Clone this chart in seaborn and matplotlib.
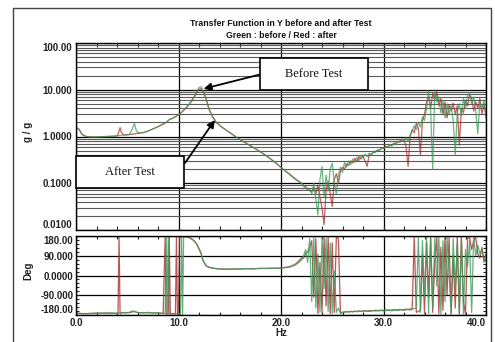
import matplotlib
matplotlib.use("Agg")
import matplotlib.pyplot as plt
from matplotlib.patches import Rectangle
from matplotlib.ticker import FixedLocator, MultipleLocator, LogLocator, NullFormatter
import pandas as pd
import seaborn as sns

# Frequency samples (Hz) shared by both measurements
freq_hz = [
    0.0, 0.3, 0.6, 1.0, 1.5, 2.0, 2.5, 3.0, 3.5, 4.0,
    4.1, 4.2, 4.3, 4.4, 4.6, 4.8, 5.2, 5.5, 5.7, 5.9,
    6.2, 6.6, 7.0, 7.5, 8.0, 8.5, 8.7, 8.8, 8.9, 9.0,
    9.1, 9.2, 9.5, 9.7, 9.8, 9.9, 10.0, 10.1, 10.2, 10.3,
    10.4, 10.5, 10.6, 10.9, 11.2, 11.5, 11.8, 12.0, 12.2, 12.4,
    12.7, 13.0, 13.3, 13.7, 14.2, 14.8, 15.4, 16.0, 16.6, 17.2,
    17.8, 18.4, 19.0, 19.6, 20.2, 20.8, 21.4, 22.0,
    22.2, 22.4, 22.6, 22.8, 23.0, 23.2, 23.4, 23.6, 23.8, 24.0,
    24.2, 24.4, 24.6, 24.8, 25.0, 25.2, 25.4, 25.6, 25.8, 26.0,
    26.2, 26.4, 26.6, 26.8, 27.0, 27.2, 27.4, 27.6, 27.8, 28.0,
    28.2, 28.4, 28.6, 28.8, 29.0, 29.2, 29.4, 29.6, 29.8, 30.0,
    30.2, 30.4, 30.6, 30.8, 31.0, 31.2, 31.4, 31.6, 31.8, 32.0,
    32.2, 32.4, 32.6, 32.8, 33.0, 33.2, 33.4, 33.6, 33.8, 34.0,
    34.2, 34.4, 34.6, 34.8, 35.0, 35.2, 35.4, 35.6, 35.8, 36.0,
    36.2, 36.4, 36.6, 36.8, 37.0, 37.2, 37.4, 37.6, 37.8, 38.0,
    38.2, 38.4, 38.6, 38.8, 39.0, 39.2, 39.4, 39.6, 39.8, 40.0, 40.2,
]

# Magnitude (g/g) before the test (green)
mag_before = [
    1.6, 1.45, 1.1, 1.0, 0.98, 0.98, 0.99, 1.0, 1.01, 1.03,
    1.04, 1.05, 1.05, 1.06, 1.07, 1.08, 1.1, 1.45, 1.9, 1.3,
    1.18, 1.22, 1.3, 1.45, 1.62, 1.85, 1.95, 2.0, 2.1, 2.2,
    2.3, 2.35, 2.5, 2.65, 2.75, 2.85, 2.95, 3.05, 3.15, 3.3,
    3.45, 3.6, 3.8, 4.5, 5.5, 7.0, 9.2, 11.2, 11.6, 9.8,
    6.5, 3.8, 2.7, 2.0, 1.6, 1.3, 1.05, 0.86, 0.72, 0.6,
    0.5, 0.41, 0.33, 0.26, 0.2, 0.155, 0.12, 0.1,
    0.085, 0.08, 0.07, 0.075, 0.06, 0.1, 0.045, 0.021, 0.12, 0.23,
    0.05, 0.15, 0.07, 0.2, 0.27, 0.1, 0.06, 0.15, 0.22, 0.17,
    0.28, 0.22, 0.3, 0.25, 0.33, 0.28, 0.36, 0.3, 0.4, 0.35,
    0.42, 0.37, 0.44, 0.4, 0.48, 0.45, 0.52, 0.5, 0.56, 0.55,
    0.6, 0.58, 0.68, 0.62, 0.72, 0.68, 0.8, 0.74, 0.88, 0.82,
    0.95, 0.78, 1.1, 1.3, 1.7, 1.4, 2.0, 1.6, 2.6, 2.2,
    4.0, 9.5, 3.5, 0.2, 10.0, 5.5, 7.0, 3.2, 6.0, 2.5,
    5.0, 3.0, 4.5, 2.2, 0.4, 3.5, 5.0, 2.8, 6.5, 4.0,
    7.5, 8.5, 5.0, 7.0, 3.5, 1.15, 5.5, 4.0, 6.0, 3.0, 2.0,
]

# Magnitude (g/g) after the test (red)
mag_after = [
    1.55, 1.4, 1.1, 1.0, 0.98, 0.98, 0.99, 1.0, 1.01, 1.03,
    1.1, 1.3, 1.55, 1.25, 1.1, 1.08, 1.1, 1.12, 1.14, 1.16,
    1.18, 1.22, 1.3, 1.45, 1.62, 1.85, 1.95, 2.0, 2.1, 2.2,
    2.3, 2.35, 2.5, 2.65, 2.75, 2.85, 2.95, 3.05, 3.15, 3.3,
    3.45, 3.6, 3.8, 4.5, 5.4, 6.8, 8.8, 10.2, 10.6, 9.2,
    6.2, 3.7, 2.7, 2.0, 1.6, 1.3, 1.05, 0.86, 0.72, 0.6,
    0.5, 0.41, 0.33, 0.26, 0.2, 0.16, 0.125, 0.1,
    0.09, 0.085, 0.075, 0.07, 0.065, 0.08, 0.06, 0.09, 0.05, 0.03,
    0.013, 0.07, 0.11, 0.06, 0.032, 0.12, 0.16, 0.1, 0.18, 0.22,
    0.2, 0.26, 0.24, 0.3, 0.27, 0.34, 0.29, 0.37, 0.33, 0.38,
    0.3, 0.23, 0.4, 0.42, 0.45, 0.48, 0.5, 0.52, 0.55, 0.57,
    0.62, 0.6, 0.65, 0.66, 0.7, 0.72, 0.76, 0.8, 0.84, 0.86,
    0.6, 0.23, 1.0, 1.4, 1.2, 1.9, 1.5, 0.4, 2.2, 3.0,
    5.5, 7.0, 4.0, 8.5, 6.0, 9.0, 4.5, 6.5, 3.0, 5.5,
    2.5, 4.8, 3.5, 5.2, 3.0, 4.5, 0.65, 4.0, 3.2, 6.0,
    4.5, 8.0, 6.5, 3.5, 5.5, 4.0, 6.5, 3.0, 5.0, 2.5, 3.0,
]

# Phase (deg) before the test (green)
phase_before = [
    -172, -174, -176, -175, -174, -173, -174, -172, -173, -174,
    -174, -173, -173, -172, -172, -171, -170, -163, -165, -170,
    -171, -172, -170, -172, -173, -174, -176, 178, -178, 178,
    -178, -176, -175, -176, -176, -177, -178, -178, -178, 179,
    -179, 179, 179, 178, 172, 162, 145, 125, 105, 70,
    45, 38, 34, 32, 29, 30, 29, 31, 32, 30,
    33, 32, 34, 33, 35, 38, 48, 70,
    90, 120, 60, 170, -120, 175, -150, 100, -170, 178,
    -60, 170, -165, 150, -175, 20, -170, -150, -172, -168,
    -170, -167, -169, -166, -168, -165, -167, -164, -166, -163,
    -165, -162, -166, -163, -161, -164, -160, -163, -161, -164,
    -160, -162, -159, -163, -160, -158, -162, -159, -157, -161,
    -158, -155, -160, -156, -152, -150, 175, -170, 160, -100,
    178, -175, 170, -150, 175, -50, 178, -178, 160, -120,
    178, 0, -175, 170, -60, 150, -175, 178, -178, 120,
    40, 160, -170, 178, 90, 140, 100, 120, 60, 90, 80,
]

# Phase (deg) after the test (red)
phase_after = [
    -173, -175, -175, -176, -175, -174, -173, -174, -173, -175,
    -176, 178, -176, -173, -170, -172, -171, -168, -166, -169,
    -172, -171, -172, -173, -172, -175, 178, -177, -176, -176,
    178, -177, -176, -177, 179, -179, -178, 179, 179, 179,
    179, 179, 178, 177, 170, 160, 142, 122, 100, 68,
    44, 37, 35, 31, 30, 29, 30, 30, 31, 31,
    32, 33, 33, 34, 36, 40, 52, 80,
    80, 100, 110, 130, 160, -100, 170, -175, 60, -170,
    175, -140, 178, -175, 150, -170, 178, 170, -175, -170,
    -168, -166, -168, -165, -167, -164, -166, -163, -165, -164,
    -162, -165, -161, -164, -162, -160, -163, -161, -159, -162,
    -160, -158, -161, -159, -157, -160, -158, -156, -159, -157,
    -155, -158, -154, -152, 178, -170, -165, -160, 100, -175,
    150, -100, 178, -170, 60, 175, -175, 130, -160, 178,
    -90, 175, -178, 90, -150, 178, -178, 178, -120, -178,
    170, 178, 120, 160, 178, 100, 80, 130, 70, 100, 60,
]

mag_ticks = [0.01, 0.1, 1, 10, 100]
mag_tick_labels = ["0.0100", "0.1000", "1.0000", "10.000", "100.00"]
phase_ticks = [-180, -90, 0, 90, 180]
phase_tick_labels = ["-180.00", "-90.000", "0.0000", "90.000", "180.00"]
freq_ticks = [0, 10, 20, 30, 40]
freq_tick_labels = ["0.0", "10.0", "20.0", "30.0", "40.0"]

title_lines = ["Transfer Function in Y before and after Test",
               "Green : before / Red : after"]

n = len(freq_hz)
df = pd.DataFrame({
    "freq": freq_hz * 2,
    "mag": mag_before + mag_after,
    "phase": phase_before + phase_after,
    "test": ["before"] * n + ["after"] * n,
})

sns.set_theme(style="white")
plt.rcParams["font.family"] = ["Liberation Sans", "DejaVu Sans"]
plt.rcParams["axes.linewidth"] = 1.0

palette = {"before": "#3c9c5a", "after": "#a82c2c"}
W, H = 495, 342
fig = plt.figure(figsize=(W / 100, H / 100), dpi=100)
fig.patch.set_facecolor("white")

ax_mag = fig.add_axes([76 / W, 112 / H, 410 / W, 187 / H])
ax_ph = fig.add_axes([76 / W, 27 / H, 410 / W, 79 / H])

tick_font = dict(fontsize=7, fontweight="bold", color="#222222")

# Magnitude plot
sns.lineplot(data=df, x="freq", y="mag", hue="test", hue_order=["after", "before"],
             palette=palette, estimator=None, sort=False, legend=False,
             linewidth=0.9, alpha=0.75, ax=ax_mag)
ax_mag.set_yscale("log")
ax_mag.set_xlim(0, 40)
ax_mag.set_ylim(0.01, 100)
ax_mag.yaxis.set_major_locator(FixedLocator(mag_ticks))
ax_mag.yaxis.set_minor_locator(LogLocator(base=10, subs=range(2, 10)))
ax_mag.yaxis.set_minor_formatter(NullFormatter())
ax_mag.set_yticklabels(mag_tick_labels, **tick_font)
ax_mag.xaxis.set_major_locator(FixedLocator(freq_ticks))
ax_mag.xaxis.set_minor_locator(MultipleLocator(2))
ax_mag.set_xticklabels([])
ax_mag.grid(which="major", axis="both", color="black", linewidth=0.9)
ax_mag.grid(which="minor", axis="y", color="#5a5a5a", linewidth=0.8)
ax_mag.set_axisbelow(True)
ax_mag.tick_params(which="both", direction="in", top=True, bottom=True,
                   left=False, right=False, length=3, width=0.8, pad=3)
ax_mag.set_xlabel("")
ax_mag.set_ylabel("")
mag_labels = ax_mag.get_yticklabels()
mag_labels[0].set_verticalalignment("bottom")
mag_labels[-1].set_verticalalignment("top")

# Phase plot
sns.lineplot(data=df, x="freq", y="phase", hue="test", hue_order=["after", "before"],
             palette=palette, estimator=None, sort=False, legend=False,
             linewidth=0.9, alpha=0.8, ax=ax_ph)
ax_ph.set_xlim(0, 40)
ax_ph.set_ylim(-182, 182)
ax_ph.yaxis.set_major_locator(FixedLocator(phase_ticks))
ax_ph.yaxis.set_minor_locator(MultipleLocator(18))
ax_ph.set_yticklabels(phase_tick_labels, **tick_font)
ax_ph.xaxis.set_major_locator(FixedLocator(freq_ticks))
ax_ph.xaxis.set_minor_locator(MultipleLocator(2))
ax_ph.set_xticklabels(freq_tick_labels, **tick_font)
ax_ph.get_xticklabels()[-1].set_horizontalalignment("right")
ax_ph.grid(which="major", axis="both", color="black", linewidth=0.9)
ax_ph.set_axisbelow(True)
ax_ph.tick_params(which="both", direction="in", top=True, bottom=True,
                  left=True, right=True, length=2.5, width=0.8, pad=2)
ax_ph.set_xlabel("Hz", fontsize=7, fontweight="bold", color="#222222", labelpad=0)
ax_ph.set_ylabel("")
ph_labels = ax_ph.get_yticklabels()
ph_labels[0].set_verticalalignment("bottom")
ph_labels[-1].set_verticalalignment("top")

for ax in (ax_mag, ax_ph):
    for sp in ax.spines.values():
        sp.set_color("black")
        sp.set_linewidth(1.0)

# Titles and axis names
fig.text(281 / W, 1 - 24 / H, title_lines[0], ha="center", va="center",
         fontsize=6.3, fontweight="bold", color="#111111")
fig.text(281 / W, 1 - 36 / H, title_lines[1], ha="center", va="center",
         fontsize=6.3, fontweight="bold", color="#111111")
fig.text(28 / W, 1 - 132 / H, "g / g", rotation=90, ha="center", va="center",
         fontsize=7, fontweight="bold", color="#222222")
fig.text(28 / W, 1 - 271 / H, "Deg", rotation=90, ha="center", va="center",
         fontsize=7, fontweight="bold", color="#222222")

# Outer frame
fig.patches.append(Rectangle((13 / W, -0.05), (491 - 13) / W, (H - 8) / H + 0.05,
                             transform=fig.transFigure, fill=False,
                             edgecolor="#444444", linewidth=1.0, zorder=5))

# Callout boxes
callouts = [
    ("Before Test", (260, 58, 108, 32), (262, 74), (12.45, 10.5)),
    ("After Test", (76, 156, 108, 32), (185, 163), (13.55, 2.25)),
]
for label, (bx, by, bw, bh), (sx, sy), tip in callouts:
    ax_mag.annotate("", xy=tip, xycoords="data",
                    xytext=(sx / W, 1 - sy / H), textcoords="figure fraction",
                    arrowprops=dict(arrowstyle="-|>", color="black", lw=1.3,
                                    mutation_scale=11, shrinkA=0, shrinkB=0),
                    annotation_clip=False, zorder=6)
    fig.patches.append(Rectangle((bx / W, 1 - (by + bh) / H), bw / W, bh / H,
                                 transform=fig.transFigure, facecolor="white",
                                 edgecolor="black", linewidth=1.2, zorder=7))
    fig.text((bx + bw / 2) / W, 1 - (by + bh / 2) / H, label, ha="center",
             va="center", fontsize=9, family=["Liberation Serif", "DejaVu Serif"],
             color="#111111", zorder=8)

fig.savefig("out.png", dpi=100, facecolor="white")
